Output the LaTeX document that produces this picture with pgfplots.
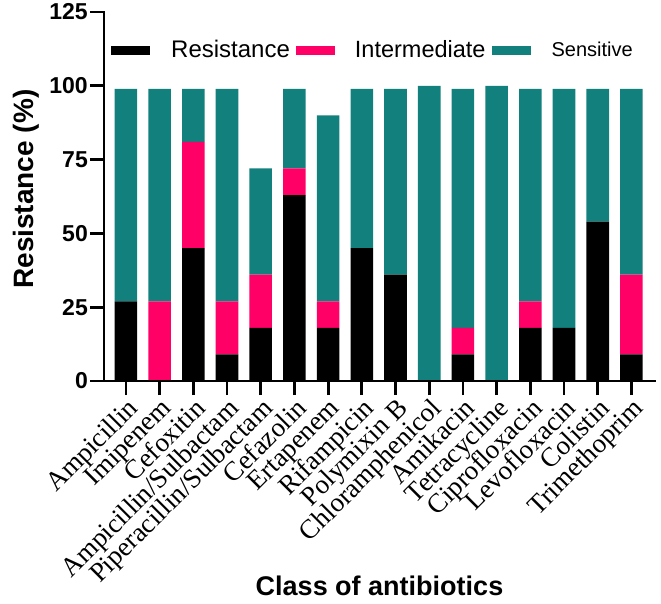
\documentclass[border=0pt]{standalone}
\usepackage{fontspec}
\setmainfont{Liberation Sans}
\newfontfamily\serifx{Liberation Serif}
\usepackage{pgfplots}
\usepackage{pgfplotstable}
\pgfplotsset{compat=1.18}
\definecolor{resred}{RGB}{0,0,0}
\definecolor{intpink}{RGB}{255,0,102}
\definecolor{senteal}{RGB}{18,128,124}
\pgfplotstableread{
x R I S
0 27 0 72
1 0 27 72
2 45 36 18
3 9 18 72
4 18 18 36
5 63 9 27
6 18 9 63
7 45 0 54
8 36 0 63
9 0 0 100
10 9 9 81
11 0 0 100
12 18 9 72
13 18 0 81
14 54 0 45
15 9 27 63
}\datatable
\begin{document}
\begin{tikzpicture}
\begin{axis}[
  name=ax,
  scale only axis,
  width=551pt, height=369pt,
  ybar stacked,
  bar width=0.67,
  xmin=-0.65, xmax=15.7,
  ymin=0, ymax=125,
  ytick={0,25,50,75,100,125},
  xtick=data,
  xticklabels={Ampicillin,Imipenem,Cefoxitin,Ampicillin/Sulbactam,Piperacillin/Sulbactam,Cefazolin,Ertapenem,Rifampicin,Polymixin B,Chloramphenicol,Amikacin,Tetracycline,Ciprofloxacin,Levofloxacin,Colistin,Trimethoprim},
  axis x line*=bottom,
  axis y line*=left,
  axis line style={-, line width=2.8pt, line cap=rect},
  tick align=outside,
  major tick length=14pt,
  tick style={line width=2.8pt, black},
  axis on top,
  /pgf/number format/assume math mode=true,
  yticklabel style={font=\fontsize{23}{23}\selectfont\bfseries, inner sep=2pt},
  xticklabel style={font=\serifx\fontsize{27}{27}\selectfont, rotate=45, anchor=north east, inner sep=1pt},
  ylabel={Resistance (\%)},
  ylabel style={font=\fontsize{28}{28}\selectfont\bfseries, at={(axis description cs:-0.1416,0.52)}, anchor=center},
  xlabel={Class of antibiotics},
  xlabel style={font=\fontsize{27}{27}\selectfont\bfseries, at={(axis description cs:0.5,-0.555)}, anchor=center},
  legend style={draw=none, fill=none, at={(axis description cs:0.0127,0.897)}, anchor=west, legend columns=3, inner sep=0pt, font=\fontsize{24}{24}\selectfont, /tikz/every even column/.append style={column sep=4pt}},
  legend image code/.code={\fill[#1] (0pt,-4.5pt) rectangle (39pt,4.5pt);},
]
\addplot[fill=resred, draw=none] table[x=x, y=R] {\datatable};
\addlegendentry{\hspace{19pt}Resistance}
\addplot[fill=intpink, draw=none] table[x=x, y=I] {\datatable};
\addlegendentry{\hspace{18pt}\fontsize{23.5}{23.5}\selectfont Intermediate}
\addplot[fill=senteal, draw=none] table[x=x, y=S] {\datatable};
\addlegendentry{\hspace{19pt}\fontsize{20}{20}\selectfont Sensitive}
\end{axis}
\pgfresetboundingbox
\path ([xshift=-104pt,yshift=-222pt]ax.south west) rectangle ([xshift=6pt,yshift=12pt]ax.north east);
\end{tikzpicture}
\end{document}
